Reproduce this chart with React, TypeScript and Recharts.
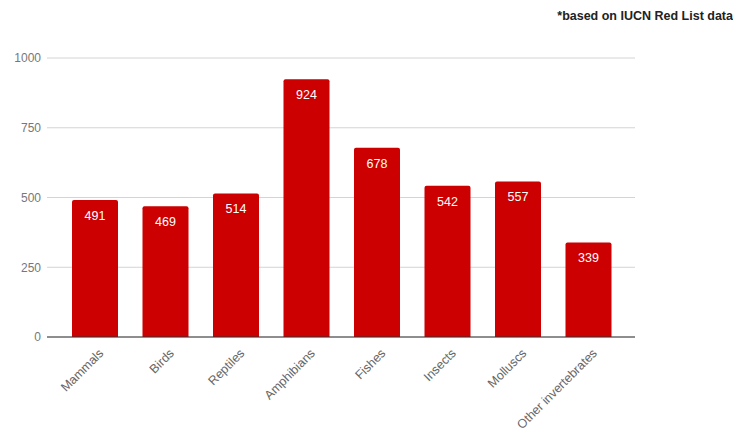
import React from 'react'
import { BarChart, Bar, XAxis, YAxis, CartesianGrid, LabelList, ReferenceLine } from 'recharts'

const categories = [
  'Mammals', 'Birds', 'Reptiles', 'Amphibians',
  'Fishes', 'Insects', 'Molluscs', 'Other invertebrates',
]
const species = [491, 469, 514, 924, 678, 542, 557, 339]
const yTicks = [0, 250, 500, 750, 1000]

const data = categories.map((name, i) => ({ name, value: species[i] }))

const FONT = '"Liberation Sans", Arial, sans-serif'

function AngledTick(props: any) {
  const { x, y, payload } = props
  return (
    <g transform={`translate(${x + 9},${y + 9})`}>
      <text
        textAnchor="end"
        transform="rotate(-45)"
        fontSize={12.5}
        fill="#666"
        fontFamily={FONT}
      >
        {payload.value}
      </text>
    </g>
  )
}

export default function App() {
  return (
    <div style={{ position: 'relative', width: 725, height: 429, fontFamily: FONT }}>
      <div
        style={{
          position: 'absolute',
          right: 0,
          top: 1,
          fontSize: 12.5,
          fontWeight: 'bold',
          color: '#222',
          whiteSpace: 'nowrap',
        }}
      >
        *based on IUCN Red List data
      </div>
      <BarChart
        width={725}
        height={428}
        data={data}
        margin={{ top: 50, right: 98, left: 0, bottom: 0 }}
        barSize={46}
        style={{ overflow: 'visible' }}
      >
        <CartesianGrid vertical={false} stroke="#d4d4d4" />
        <XAxis
          dataKey="name"
          interval={0}
          height={99}
          axisLine={false}
          tickLine={false}
          tick={<AngledTick />}
          padding={{ left: 13, right: 11 }}
        />
        <YAxis
          width={39}
          domain={[0, 1000]}
          ticks={yTicks}
          axisLine={false}
          tickLine={false}
          tickSize={0}
          tickMargin={6}
          tick={{ fontSize: 12, fill: '#777', fontFamily: FONT }}
        />
        <Bar dataKey="value" fill="#cc0000" radius={[2, 2, 0, 0]} isAnimationActive={false}>
          <LabelList
            dataKey="value"
            position="insideTop"
            offset={11}
            fill="#fff"
            fontSize={12.5}
            fontFamily={FONT}
          />
        </Bar>
        <ReferenceLine y={0} stroke="#333" strokeWidth={1} />
      </BarChart>
    </div>
  )
}
